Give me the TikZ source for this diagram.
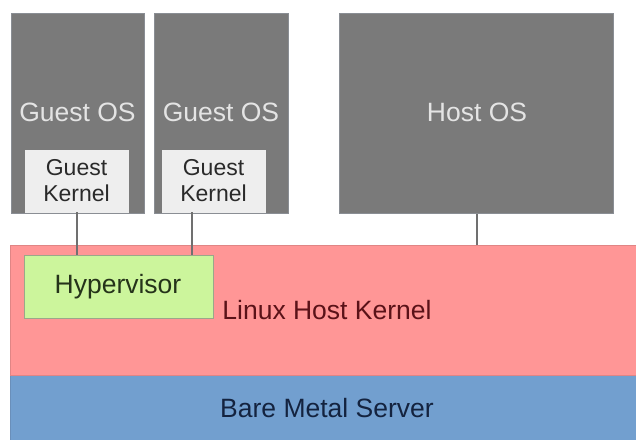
\documentclass[tikz,border=0pt]{standalone}
\usepackage{fontspec}
\setmainfont{Liberation Sans}
\definecolor{osgray}{HTML}{7A7A7A}
\definecolor{osedge}{HTML}{8A8E94}
\definecolor{ostext}{HTML}{E4E4E4}
\definecolor{kfill}{HTML}{EEEEEE}
\definecolor{ktext}{HTML}{2A2A2A}
\definecolor{hostk}{HTML}{FF9696}
\definecolor{hostkedge}{HTML}{E08585}
\definecolor{hostktext}{HTML}{5A1218}
\definecolor{metal}{HTML}{729FCF}
\definecolor{metaledge}{HTML}{6A8FBA}
\definecolor{metaltext}{HTML}{14233F}
\definecolor{hypfill}{HTML}{CCF59C}
\definecolor{hypedge}{HTML}{9AA88A}
\definecolor{hyptext}{HTML}{25331A}
\definecolor{link}{HTML}{707070}
\tikzset{
  osbox/.style={draw=osedge, line width=1pt, fill=osgray},
  kbox/.style={draw=kfill, line width=0.5pt, fill=kfill},
  layer/.style={line width=1pt},
  bigtext/.style={font=\fontsize{26.5}{30}\selectfont},
  ktextstyle/.style={font=\fontsize{23}{26}\selectfont, text=ktext, align=center},
  linkline/.style={draw=link, line width=2pt},
}
\begin{document}
\begin{tikzpicture}[x=1pt,y=-1pt]
\useasboundingbox[fill=white] (0,0) rectangle (636,439);

% hardware and host kernel layers
\path[layer, fill=metal, draw=metaledge] (10,375) rectangle (640,443);
\node[bigtext, text=metaltext] (metal) at (327,408) {Bare Metal Server};
\path[layer, fill=hostk, draw=hostkedge] (10,245) rectangle (640,375);
\node[bigtext, text=hostktext] (hostk) at (327,310) {Linux Host Kernel};
\coordinate (hostktop) at (477,245);

% hypervisor
\path[fill=hypfill, draw=hypedge, line width=1pt] (24,255) rectangle (213,318);
\node[bigtext, text=hyptext] (hyp) at (118,287) {Hypervisor};
\coordinate (hyptopA) at (77,255);
\coordinate (hyptopB) at (192,255);

% guest and host operating systems
\path[osbox] (11,13) rectangle (144,213);
\node[bigtext, text=ostext] (g1) at (77.5,112) {Guest OS};
\path[osbox] (154,13) rectangle (288,213);
\node[bigtext, text=ostext] (g2) at (221,112) {Guest OS};
\path[osbox] (339,13) rectangle (613,213);
\node[bigtext, text=ostext] (host) at (477,112) {Host OS};
\coordinate (hostbot) at (477,214);

% guest kernels
\path[kbox] (25,150) rectangle (128,212);
\node[ktextstyle] (k1) at (76.5,181) {Guest\\[0pt]Kernel};
\coordinate (k1bot) at (77,212);
\path[kbox] (162,150) rectangle (265,212);
\node[ktextstyle] (k2) at (213.5,181) {Guest\\[0pt]Kernel};
\coordinate (k2bot) at (192,212);

% connectors
\draw[linkline] (k1bot) -- (hyptopA);
\draw[linkline] (k2bot) -- (hyptopB);
\draw[linkline] (hostbot) -- (hostktop);
\end{tikzpicture}
\end{document}
